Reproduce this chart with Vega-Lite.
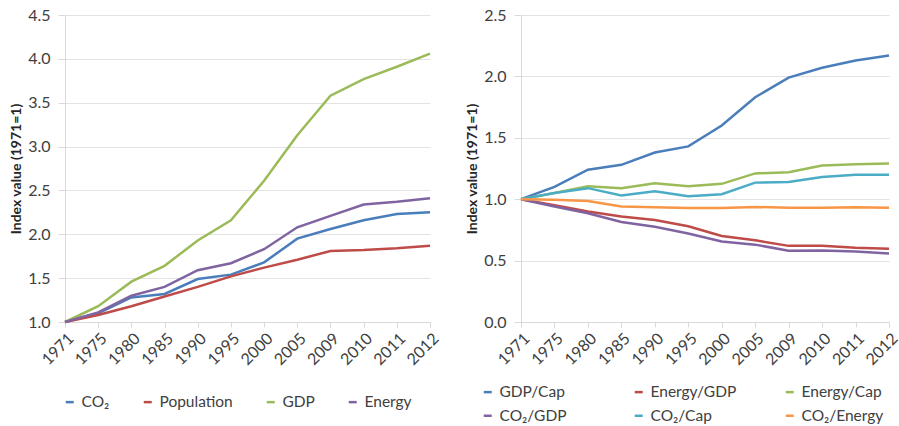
{
  "$schema": "https://vega.github.io/schema/vega-lite/v6.json",
  "padding": {"left": 9, "top": 7, "right": 4, "bottom": 0},
  "spacing": 23,
  "config": {
    "font": "Lato",
    "view": {"stroke": null},
    "axis": {"labelFont": "Lato", "labelFontSize": 16, "labelColor": "#404040", "titleFont": "Lato", "titleFontSize": 14, "titleFontWeight": "bold", "titleColor": "#262626", "domainColor": "#d9d9d9", "gridColor": "#e3e3e3", "tickColor": "#d9d9d9"},
    "axisX": {"labelAngle": -45, "ticks": true, "tickSize": 5, "grid": false, "title": null, "labelPadding": 3},
    "axisY": {"ticks": true, "tickSize": 7, "labelPadding": 8, "titlePadding": 4, "grid": true},
    "legend": {"orient": "none", "direction": "horizontal", "symbolType": "stroke", "symbolStrokeWidth": 2.5, "symbolSize": 64, "labelFontSize": 15.5, "labelFont": "Lato", "labelColor": "#404040", "labelOffset": 4}
  },
  "datasets": {
    "left": [
      {"year": "1971", "series": "CO₂", "value": 1}, {"year": "1975", "series": "CO₂", "value": 1.10}, {"year": "1980", "series": "CO₂", "value": 1.28}, {"year": "1985", "series": "CO₂", "value": 1.32}, {"year": "1990", "series": "CO₂", "value": 1.49}, {"year": "1995", "series": "CO₂", "value": 1.54}, {"year": "2000", "series": "CO₂", "value": 1.68}, {"year": "2005", "series": "CO₂", "value": 1.95}, {"year": "2009", "series": "CO₂", "value": 2.06}, {"year": "2010", "series": "CO₂", "value": 2.16}, {"year": "2011", "series": "CO₂", "value": 2.23}, {"year": "2012", "series": "CO₂", "value": 2.25},
      {"year": "1971", "series": "Population", "value": 1}, {"year": "1975", "series": "Population", "value": 1.08}, {"year": "1980", "series": "Population", "value": 1.18}, {"year": "1985", "series": "Population", "value": 1.29}, {"year": "1990", "series": "Population", "value": 1.40}, {"year": "1995", "series": "Population", "value": 1.52}, {"year": "2000", "series": "Population", "value": 1.62}, {"year": "2005", "series": "Population", "value": 1.71}, {"year": "2009", "series": "Population", "value": 1.81}, {"year": "2010", "series": "Population", "value": 1.82}, {"year": "2011", "series": "Population", "value": 1.84}, {"year": "2012", "series": "Population", "value": 1.87},
      {"year": "1971", "series": "GDP", "value": 1}, {"year": "1975", "series": "GDP", "value": 1.18}, {"year": "1980", "series": "GDP", "value": 1.46}, {"year": "1985", "series": "GDP", "value": 1.64}, {"year": "1990", "series": "GDP", "value": 1.93}, {"year": "1995", "series": "GDP", "value": 2.16}, {"year": "2000", "series": "GDP", "value": 2.61}, {"year": "2005", "series": "GDP", "value": 3.13}, {"year": "2009", "series": "GDP", "value": 3.58}, {"year": "2010", "series": "GDP", "value": 3.77}, {"year": "2011", "series": "GDP", "value": 3.91}, {"year": "2012", "series": "GDP", "value": 4.06},
      {"year": "1971", "series": "Energy", "value": 1}, {"year": "1975", "series": "Energy", "value": 1.11}, {"year": "1980", "series": "Energy", "value": 1.30}, {"year": "1985", "series": "Energy", "value": 1.40}, {"year": "1990", "series": "Energy", "value": 1.59}, {"year": "1995", "series": "Energy", "value": 1.67}, {"year": "2000", "series": "Energy", "value": 1.83}, {"year": "2005", "series": "Energy", "value": 2.08}, {"year": "2009", "series": "Energy", "value": 2.21}, {"year": "2010", "series": "Energy", "value": 2.34}, {"year": "2011", "series": "Energy", "value": 2.37}, {"year": "2012", "series": "Energy", "value": 2.41}
    ],
    "right": [
      {"year": "1971", "series": "GDP/Cap", "value": 1}, {"year": "1975", "series": "GDP/Cap", "value": 1.10}, {"year": "1980", "series": "GDP/Cap", "value": 1.24}, {"year": "1985", "series": "GDP/Cap", "value": 1.28}, {"year": "1990", "series": "GDP/Cap", "value": 1.38}, {"year": "1995", "series": "GDP/Cap", "value": 1.43}, {"year": "2000", "series": "GDP/Cap", "value": 1.60}, {"year": "2005", "series": "GDP/Cap", "value": 1.83}, {"year": "2009", "series": "GDP/Cap", "value": 1.99}, {"year": "2010", "series": "GDP/Cap", "value": 2.07}, {"year": "2011", "series": "GDP/Cap", "value": 2.13}, {"year": "2012", "series": "GDP/Cap", "value": 2.17},
      {"year": "1971", "series": "Energy/GDP", "value": 1}, {"year": "1975", "series": "Energy/GDP", "value": 0.95}, {"year": "1980", "series": "Energy/GDP", "value": 0.90}, {"year": "1985", "series": "Energy/GDP", "value": 0.86}, {"year": "1990", "series": "Energy/GDP", "value": 0.83}, {"year": "1995", "series": "Energy/GDP", "value": 0.78}, {"year": "2000", "series": "Energy/GDP", "value": 0.70}, {"year": "2005", "series": "Energy/GDP", "value": 0.665}, {"year": "2009", "series": "Energy/GDP", "value": 0.62}, {"year": "2010", "series": "Energy/GDP", "value": 0.62}, {"year": "2011", "series": "Energy/GDP", "value": 0.605}, {"year": "2012", "series": "Energy/GDP", "value": 0.597},
      {"year": "1971", "series": "Energy/Cap", "value": 1}, {"year": "1975", "series": "Energy/Cap", "value": 1.05}, {"year": "1980", "series": "Energy/Cap", "value": 1.105}, {"year": "1985", "series": "Energy/Cap", "value": 1.09}, {"year": "1990", "series": "Energy/Cap", "value": 1.13}, {"year": "1995", "series": "Energy/Cap", "value": 1.105}, {"year": "2000", "series": "Energy/Cap", "value": 1.125}, {"year": "2005", "series": "Energy/Cap", "value": 1.21}, {"year": "2009", "series": "Energy/Cap", "value": 1.22}, {"year": "2010", "series": "Energy/Cap", "value": 1.275}, {"year": "2011", "series": "Energy/Cap", "value": 1.285}, {"year": "2012", "series": "Energy/Cap", "value": 1.29},
      {"year": "1971", "series": "CO₂/GDP", "value": 1}, {"year": "1975", "series": "CO₂/GDP", "value": 0.94}, {"year": "1980", "series": "CO₂/GDP", "value": 0.885}, {"year": "1985", "series": "CO₂/GDP", "value": 0.815}, {"year": "1990", "series": "CO₂/GDP", "value": 0.775}, {"year": "1995", "series": "CO₂/GDP", "value": 0.72}, {"year": "2000", "series": "CO₂/GDP", "value": 0.655}, {"year": "2005", "series": "CO₂/GDP", "value": 0.63}, {"year": "2009", "series": "CO₂/GDP", "value": 0.58}, {"year": "2010", "series": "CO₂/GDP", "value": 0.583}, {"year": "2011", "series": "CO₂/GDP", "value": 0.575}, {"year": "2012", "series": "CO₂/GDP", "value": 0.558},
      {"year": "1971", "series": "CO₂/Cap", "value": 1}, {"year": "1975", "series": "CO₂/Cap", "value": 1.05}, {"year": "1980", "series": "CO₂/Cap", "value": 1.09}, {"year": "1985", "series": "CO₂/Cap", "value": 1.03}, {"year": "1990", "series": "CO₂/Cap", "value": 1.065}, {"year": "1995", "series": "CO₂/Cap", "value": 1.025}, {"year": "2000", "series": "CO₂/Cap", "value": 1.04}, {"year": "2005", "series": "CO₂/Cap", "value": 1.135}, {"year": "2009", "series": "CO₂/Cap", "value": 1.14}, {"year": "2010", "series": "CO₂/Cap", "value": 1.18}, {"year": "2011", "series": "CO₂/Cap", "value": 1.2}, {"year": "2012", "series": "CO₂/Cap", "value": 1.2},
      {"year": "1971", "series": "CO₂/Energy", "value": 1}, {"year": "1975", "series": "CO₂/Energy", "value": 0.995}, {"year": "1980", "series": "CO₂/Energy", "value": 0.985}, {"year": "1985", "series": "CO₂/Energy", "value": 0.94}, {"year": "1990", "series": "CO₂/Energy", "value": 0.935}, {"year": "1995", "series": "CO₂/Energy", "value": 0.928}, {"year": "2000", "series": "CO₂/Energy", "value": 0.928}, {"year": "2005", "series": "CO₂/Energy", "value": 0.937}, {"year": "2009", "series": "CO₂/Energy", "value": 0.93}, {"year": "2010", "series": "CO₂/Energy", "value": 0.93}, {"year": "2011", "series": "CO₂/Energy", "value": 0.935}, {"year": "2012", "series": "CO₂/Energy", "value": 0.93}
    ]
  },
  "resolve": {"scale": {"color": "independent"}, "legend": {"color": "independent"}},
  "hconcat": [
    {
      "width": 365,
      "height": 307,
      "data": {"name": "left"},
      "mark": {"type": "line", "strokeWidth": 2.5},
      "encoding": {
        "x": {"field": "year", "type": "ordinal", "scale": {"type": "point", "padding": 0}},
        "y": {"field": "value", "type": "quantitative", "scale": {"domain": [1, 4.5], "nice": false}, "axis": {"values": [1, 1.5, 2, 2.5, 3, 3.5, 4, 4.5], "format": ".1f", "title": "Index value (1971=1)"}},
        "color": {"field": "series", "type": "nominal", "scale": {"domain": ["CO₂", "Population", "GDP", "Energy"], "range": ["#4A7EBB", "#BE4B48", "#9BBB59", "#8064A2"]}, "legend": {"title": null, "columns": 4, "columnPadding": 28, "legendX": -3, "legendY": 379}}
      }
    },
    {
      "width": 368,
      "height": 307,
      "data": {"name": "right"},
      "mark": {"type": "line", "strokeWidth": 2.5},
      "encoding": {
        "x": {"field": "year", "type": "ordinal", "scale": {"type": "point", "padding": 0}},
        "y": {"field": "value", "type": "quantitative", "scale": {"domain": [0, 2.5], "nice": false}, "axis": {"values": [0, 0.5, 1, 1.5, 2, 2.5], "format": ".1f", "title": "Index value (1971=1)"}},
        "color": {"field": "series", "type": "nominal", "scale": {"domain": ["GDP/Cap", "Energy/GDP", "Energy/Cap", "CO₂/GDP", "CO₂/Cap", "CO₂/Energy"], "range": ["#4A7EBB", "#BE4B48", "#9BBB59", "#8064A2", "#4BACC6", "#F79646"]}, "legend": {"title": null, "columns": 3, "gridAlign": "all", "columnPadding": 43, "rowPadding": 7, "legendX": -41, "legendY": 369}}
      }
    }
  ]
}
